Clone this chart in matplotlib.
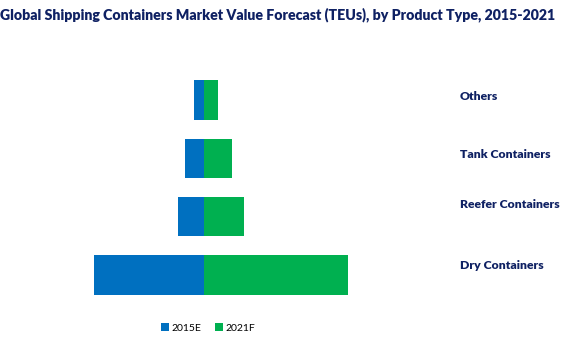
import matplotlib
matplotlib.use("Agg")
import matplotlib.pyplot as plt
import matplotlib.transforms as mtransforms

categories = ["Dry Containers", "Reefer Containers", "Tank Containers", "Others"]
values_2015 = [110, 26, 19, 10]
values_2021 = [144, 40, 28, 14]
series_labels = ["2015E", "2021F"]

BLUE = "#0070C0"
GREEN = "#00B050"
NAVY = "#0F2163"
FONT = "Lato"

fig = plt.figure(figsize=(5.71, 3.40), dpi=100)
ax = fig.add_axes([0, 0, 1, 1])
ax.set_xlim(-204, 367)
ax.set_ylim(-1.114, 4.714)
ax.axis("off")

ypos = list(range(len(categories)))
h = 0.67
b1 = ax.barh(ypos, [-v for v in values_2015], height=h, color=BLUE, label=series_labels[0])
b2 = ax.barh(ypos, values_2021, height=h, color=GREEN, label=series_labels[1])

label_offsets = [7, 8.5, 3, 2.5]  # points upward
trans = mtransforms.blended_transform_factory(fig.transFigure, ax.transData)
for y, name, off in zip(ypos, categories, label_offsets):
    ax.annotate(name, xy=(460 / 571, y), xycoords=trans, xytext=(0, off),
                textcoords="offset points", ha="left", va="center",
                fontsize=8.8, fontweight="heavy", color=NAVY, family=FONT)

fig.text(0.0, 1 - 15 / 340, "Global Shipping Containers Market Value Forecast (TEUs), by Product Type, 2015-2021",
         ha="left", va="center", fontsize=10.2, fontweight="heavy", color=NAVY, family=FONT)

leg = ax.legend(handles=[b1, b2], labels=series_labels, loc="center", ncol=2,
                bbox_to_anchor=(208 / 571, 1 - 328 / 340), bbox_transform=fig.transFigure,
                frameon=False, handlelength=0.75, handleheight=0.75,
                handletextpad=0.25, columnspacing=1.3, prop={"family": FONT, "size": 7.5})

fig.savefig("out.png", dpi=100)
